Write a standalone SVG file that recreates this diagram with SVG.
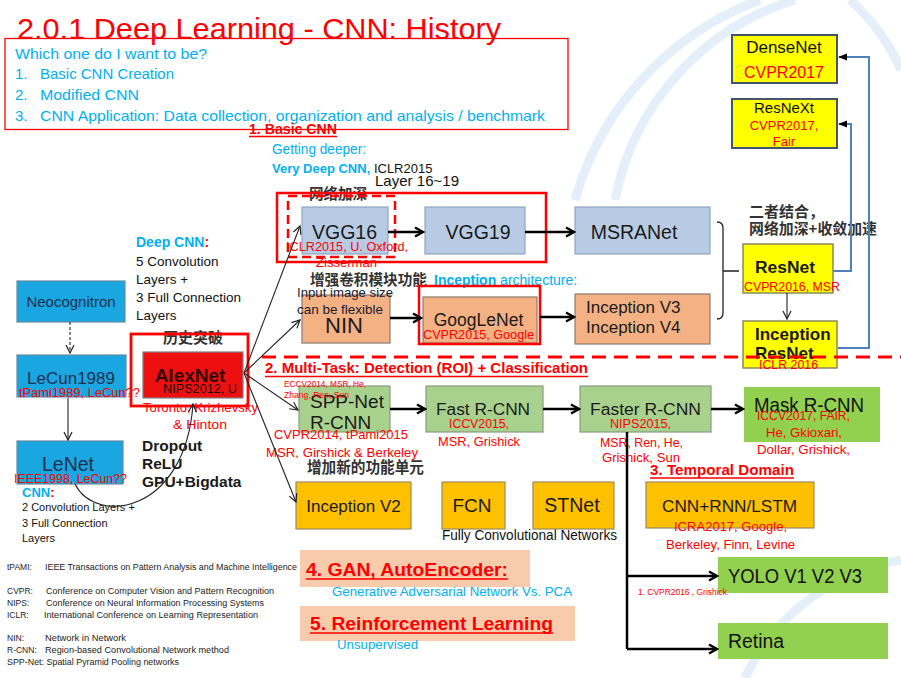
<svg xmlns="http://www.w3.org/2000/svg" width="901" height="678" viewBox="0 0 901 678">
<style>
text{font-family:"Liberation Sans",Arial,"Noto Sans CJK SC",sans-serif}
.cjk{font-family:"Noto Sans CJK SC","Liberation Sans",sans-serif;font-weight:bold;fill:#333}
.r{fill:#FF0000;font-size:13px}
.c{fill:#00B0F0}
.k{fill:#111}
.lab{font-size:17px;fill:#1a1a1a}
.mid{text-anchor:middle}
.vgg{fill:#B7CCE4;stroke:#8FA6BF;stroke-width:1.2}
.sal{fill:#F4B183;stroke:#8a7a70;stroke-width:1.2}
.grn{fill:#A9D18E;stroke:#8a9a80;stroke-width:1.2}
.org{fill:#FFC000;stroke:#9a8a60;stroke-width:1.2}
.yel{fill:#FFFF00;stroke:#8a8a60;stroke-width:1.5}
.lg{fill:#92D050}
.cb{fill:#1AA6E0;stroke:#6a8aa0;stroke-width:1.2}
.pk{fill:#F8CBAD}
.leg{font-size:8.5px;fill:#222}
.ttl{fill:#FF0000;font-weight:bold}
.ul{stroke:#FF0000;stroke-width:1.3}
.thick{stroke:#000;stroke-width:2.5;fill:none;marker-end:url(#ah)}
.thin{stroke:#222;stroke-width:1.1;fill:none;marker-end:url(#as)}
.blue{stroke:#4F81BD;stroke-width:2;fill:none;marker-end:url(#af)}
</style>
<defs>
<marker id="ah" viewBox="0 0 12 12" refX="10" refY="6" markerWidth="12" markerHeight="12" markerUnits="userSpaceOnUse" orient="auto"><path d="M2,1.5 L10,6 L2,10.5" fill="none" stroke="#000" stroke-width="2.2"/></marker>
<marker id="as" viewBox="0 0 10 10" refX="9" refY="5" markerWidth="10" markerHeight="10" markerUnits="userSpaceOnUse" orient="auto"><path d="M1,1 L9,5 L1,9" fill="none" stroke="#222" stroke-width="1.2"/></marker>
<marker id="af" viewBox="0 0 10 10" refX="9" refY="5" markerWidth="9" markerHeight="9" markerUnits="userSpaceOnUse" orient="auto"><path d="M0,1 L10,5 L0,9 z" fill="#000"/></marker>
</defs>
<rect width="901" height="678" fill="#fff"/>
<g id="watermark" fill="none" stroke="#E4EFF9" stroke-width="9">
<path d="M575,200 A300,300 0 0 1 760,0"/>
<path d="M615,200 A260,260 0 0 1 795,0"/>
<path d="M850,0 A200,200 0 0 1 901,70"/>
<path d="M745,678 A210,210 0 0 1 901,560"/>
</g>

<g id="header">
<text x="17" y="39" font-size="30" fill="#FF0000" textLength="484" lengthAdjust="spacingAndGlyphs">2.0.1 Deep Learning - CNN: History</text>
<rect x="5" y="38.5" width="563" height="91" fill="none" stroke="#FF0000" stroke-width="1.3"/>
<g class="c" font-size="15">
<text x="15" y="59" textLength="192" lengthAdjust="spacingAndGlyphs">Which one do I want to be?</text>
<text x="15" y="79">1.</text><text x="40" y="79" textLength="134" lengthAdjust="spacingAndGlyphs">Basic CNN Creation</text>
<text x="15" y="100">2.</text><text x="40" y="100" textLength="99" lengthAdjust="spacingAndGlyphs">Modified CNN</text>
<text x="15" y="121">3.</text><text x="40" y="121" textLength="505" lengthAdjust="spacingAndGlyphs">CNN Application: Data collection, organization and analysis / benchmark</text>
</g>
</g>

<g id="section1">
<text x="249" y="134" font-size="14" class="ttl" textLength="88" lengthAdjust="spacingAndGlyphs">1. Basic CNN</text>
<line x1="249" y1="136.5" x2="337" y2="136.5" class="ul"/>
<text x="272" y="154" font-size="14" class="c" textLength="94" lengthAdjust="spacingAndGlyphs">Getting deeper:</text>
<text x="272" y="173" font-size="13"><tspan class="c" font-weight="bold">Very Deep CNN,</tspan><tspan class="k"> ICLR2015</tspan></text>
<text x="375" y="186" font-size="15" class="k" textLength="84" lengthAdjust="spacingAndGlyphs">Layer 16~19</text>
<text x="309" y="199" font-size="14.5" class="cjk" textLength="58" lengthAdjust="spacingAndGlyphs">网络加深</text>
<rect x="277" y="193" width="269" height="69" fill="none" stroke="#FF0000" stroke-width="2.5"/>
</g>

<g id="vgg16">
<rect x="302" y="207" width="86" height="47" class="vgg"/>
<text x="344.5" y="239" font-size="19.5" class="mid" fill="#1a1a1a">VGG16</text>
<text x="286" y="251" class="r" textLength="122" lengthAdjust="spacingAndGlyphs">ICLR2015, U. Oxford,</text>
<text x="316" y="267" class="r" textLength="61" lengthAdjust="spacingAndGlyphs">Zisserman</text>
<rect x="288" y="196" width="107" height="61" fill="none" stroke="#FF0000" stroke-width="2.5" stroke-dasharray="9,5"/>
</g>
<g id="vgg19">
<rect x="425" y="207" width="100" height="47" class="vgg"/>
<text x="478" y="239" font-size="19.5" class="mid" fill="#1a1a1a">VGG19</text>
</g>
<g id="msranet">
<rect x="575" y="207" width="135" height="47" class="vgg"/>
<text x="634" y="239" font-size="19.5" class="mid" fill="#1a1a1a">MSRANet</text>
</g>

<g id="inception-label">
<text x="310" y="285" font-size="14.6" class="cjk" textLength="117" lengthAdjust="spacingAndGlyphs">增强卷积模块功能</text>
<text x="434" y="285" font-size="14" class="c"><tspan font-weight="bold">Inception</tspan> architecture:</text>
</g>
<g id="nin">
<rect x="302" y="295" width="88" height="48" class="sal"/>
<text x="344" y="333" font-size="22" class="mid" fill="#1a1a1a">NIN</text>
<text x="297" y="297" font-size="13" fill="#1a1a30" textLength="96" lengthAdjust="spacingAndGlyphs">Input image size</text>
<text x="297" y="314" font-size="13" fill="#1a1a30" textLength="86" lengthAdjust="spacingAndGlyphs">can be flexible</text>
</g>
<g id="googlenet">
<rect x="423" y="297" width="114" height="46" class="sal"/>
<rect x="419" y="286" width="121" height="58" fill="none" stroke="#FF0000" stroke-width="2.5"/>
<text x="478.5" y="326" font-size="17.5" class="mid" fill="#1a1a1a">GoogLeNet</text>
<text x="423" y="339" class="r" textLength="111" lengthAdjust="spacingAndGlyphs">CVPR2015, Google</text>
</g>
<g id="inception-v3v4">
<rect x="575" y="294" width="135" height="50" class="sal"/>
<text x="586" y="313" font-size="17" fill="#1a1a1a">Inception V3</text>
<text x="586" y="333" font-size="17" fill="#1a1a1a">Inception V4</text>
</g>

<g id="combine-label">
<text x="749" y="217" font-size="15" class="cjk">二者结合，</text>
<text x="749" y="234" font-size="14.5" class="cjk" textLength="128" lengthAdjust="spacingAndGlyphs">网络加深+收敛加速</text>
</g>
<g id="resnet">
<rect x="743" y="244" width="90" height="49" class="yel"/>
<text x="755" y="273" font-size="17.4" font-weight="bold" fill="#1a1a1a">ResNet</text>
<text x="744" y="291" class="r" textLength="96" lengthAdjust="spacingAndGlyphs">CVPR2016, MSR</text>
</g>
<g id="inception-resnet">
<rect x="743" y="321" width="94" height="47" class="yel"/>
<text x="755" y="340" font-size="17" font-weight="bold" fill="#1a1a1a">Inception</text>
<text x="755" y="359" font-size="17" font-weight="bold" fill="#1a1a1a">ResNet</text>
</g>
<g id="densenet">
<rect x="732" y="35" width="105" height="48" fill="#FFFF00" stroke="#44546A" stroke-width="2"/>
<text x="784" y="53" font-size="17" class="mid" fill="#111">DenseNet</text>
<text x="784" y="78" font-size="16" class="mid" fill="#FF0000">CVPR2017</text>
</g>
<g id="resnext">
<rect x="732" y="99" width="105" height="49" fill="#FFFF00" stroke="#44546A" stroke-width="2"/>
<text x="784" y="113" font-size="15" class="mid" fill="#111">ResNeXt</text>
<text x="784" y="130" class="r mid">CVPR2017,</text>
<text x="784" y="146" class="r mid">Fair</text>
</g>

<g id="separator">
<path d="M262,357 H901" stroke="#FF0000" stroke-width="3" stroke-dasharray="14,8" fill="none"/>
<text x="759" y="369" class="r" textLength="59" lengthAdjust="spacingAndGlyphs">ICLR 2016</text>
</g>

<g id="section2">
<text x="265" y="373" font-size="15" class="ttl" textLength="323" lengthAdjust="spacingAndGlyphs">2. Multi-Task: Detection (ROI) + Classification</text>
<line x1="265" y1="376.5" x2="588" y2="376.5" class="ul"/>
</g>

<g id="alexnet">
<text x="193" y="343" font-size="15" class="cjk mid">历史突破</text>
<rect x="131" y="334" width="117" height="72" fill="none" stroke="#FF0000" stroke-width="2.8"/>
<rect x="143" y="352" width="100" height="46" fill="#EE1010" stroke="#7f7f7f" stroke-width="1.2"/>
<text x="190" y="382" font-size="19" font-weight="bold" class="mid" fill="#330000">AlexNet</text>
<text x="163" y="393" font-size="13" fill="#111" textLength="74" lengthAdjust="spacingAndGlyphs">NIPS2012, U</text>
<text x="143" y="412" class="r" textLength="115" lengthAdjust="spacingAndGlyphs">Toronto, Krizhevsky</text>
<text x="173" y="429" class="r" textLength="54" lengthAdjust="spacingAndGlyphs">&amp; Hinton</text>
</g>
<g id="deepcnn-label">
<text x="136" y="247" font-size="14" font-weight="bold"><tspan class="c">Deep CNN</tspan><tspan fill="#FF0000">:</tspan></text>
<text x="136" y="266" font-size="13.5" class="k">5 Convolution</text>
<text x="136" y="284" font-size="13.5" class="k">Layers +</text>
<text x="136" y="302" font-size="13.5" class="k">3 Full Connection</text>
<text x="136" y="320" font-size="13.5" class="k">Layers</text>
</g>
<g id="tricks">
<text x="142" y="451" font-size="15.5" font-weight="bold" fill="#1a1a1a">Dropout</text>
<text x="142" y="469" font-size="15.5" font-weight="bold" fill="#1a1a1a">ReLU</text>
<text x="142" y="487" font-size="15.5" font-weight="bold" fill="#1a1a1a">GPU+Bigdata</text>
</g>
<g id="neocognitron">
<rect x="17" y="281" width="108" height="41" class="cb"/>
<text x="71" y="307" font-size="15" class="mid" fill="#1F3050">Neocognitron</text>
</g>
<g id="lecun1989">
<rect x="17" y="355" width="109" height="42" class="cb"/>
<text x="71" y="384" font-size="17" class="mid" fill="#1F3050">LeCun1989</text>
<text x="19" y="397" class="r" textLength="121" lengthAdjust="spacingAndGlyphs">tPami1989, LeCun??</text>
</g>
<g id="lenet">
<rect x="17" y="441" width="106" height="43" class="cb"/>
<text x="68" y="471" font-size="19.5" class="mid" fill="#1F3050">LeNet</text>
<text x="14" y="483" class="r" textLength="113" lengthAdjust="spacingAndGlyphs">IEEE1998, LeCun??</text>
<text x="22" y="497" font-size="13" font-weight="bold"><tspan class="c">CNN</tspan><tspan fill="#FF0000">:</tspan></text>
<text x="22" y="511" font-size="11" class="k">2 Convolution Layers +</text>
<text x="22" y="527" font-size="11" class="k">3 Full Connection</text>
<text x="22" y="542" font-size="11" class="k">Layers</text>
</g>

<g id="spp-net">
<rect x="299" y="386" width="91" height="46" class="grn"/>
<text x="310" y="408" font-size="19" fill="#1a1a1a">SPP-Net</text>
<text x="310" y="429" font-size="19" fill="#1a1a1a">R-CNN</text>
<text x="284" y="387" font-size="9" fill="#FF0000" textLength="82" lengthAdjust="spacingAndGlyphs">ECCV2014, MSR, He,</text>
<text x="284" y="398" font-size="9" fill="#FF0000" textLength="65" lengthAdjust="spacingAndGlyphs">Zhang, Ren, Sun</text>
<text x="274" y="439" class="r" textLength="134" lengthAdjust="spacingAndGlyphs">CVPR2014, tPami2015</text>
<text x="266" y="457" class="r" textLength="152" lengthAdjust="spacingAndGlyphs">MSR, Girshick &amp; Berkeley</text>
</g>
<g id="fast-rcnn">
<rect x="426" y="386" width="117" height="46" class="grn"/>
<text x="436" y="415" font-size="17.3" fill="#1a1a1a">Fast R-CNN</text>
<text x="449" y="428" class="r" textLength="60" lengthAdjust="spacingAndGlyphs">ICCV2015,</text>
<text x="438" y="446" class="r" textLength="82" lengthAdjust="spacingAndGlyphs">MSR, Grishick</text>
</g>
<g id="faster-rcnn">
<rect x="580" y="386" width="131" height="46" class="grn"/>
<text x="590" y="415" font-size="17.3" fill="#1a1a1a" textLength="111" lengthAdjust="spacingAndGlyphs">Faster R-CNN</text>
<text x="610" y="428" class="r" textLength="61" lengthAdjust="spacingAndGlyphs">NIPS2015,</text>
<text x="600" y="447" class="r" textLength="83" lengthAdjust="spacingAndGlyphs">MSR, Ren, He,</text>
<text x="602" y="462" class="r" textLength="78" lengthAdjust="spacingAndGlyphs">Grisnick, Sun</text>
</g>
<g id="mask-rcnn">
<rect x="744" y="387" width="136" height="55" class="lg"/>
<text x="754" y="412" font-size="21" fill="#111" textLength="110" lengthAdjust="spacingAndGlyphs">Mask R-CNN</text>
<text x="757" y="420" class="r" textLength="93" lengthAdjust="spacingAndGlyphs">ICCV2017, FAIR,</text>
<text x="766" y="437" class="r" textLength="76" lengthAdjust="spacingAndGlyphs">He, Gkioxari,</text>
<text x="757" y="454" class="r" textLength="93" lengthAdjust="spacingAndGlyphs">Dollar, Grishick,</text>
</g>

<g id="new-units-label">
<text x="307" y="473" font-size="16" class="cjk" textLength="117" lengthAdjust="spacingAndGlyphs">增加新的功能单元</text>
</g>
<g id="inception-v2">
<rect x="296" y="482" width="115" height="47" class="org"/>
<text x="353.5" y="512" font-size="17" class="mid" fill="#1a1a1a">Inception V2</text>
</g>
<g id="fcn">
<rect x="442" y="482" width="63" height="47" class="org"/>
<text x="472" y="512" font-size="19" class="mid" fill="#1a1a1a">FCN</text>
<text x="442" y="540" font-size="14" fill="#111" textLength="175" lengthAdjust="spacingAndGlyphs">Fully Convolutional Networks</text>
</g>
<g id="stnet">
<rect x="533" y="482" width="81" height="47" class="org"/>
<text x="572" y="512" font-size="19.5" class="mid" fill="#1a1a1a">STNet</text>
</g>
<g id="section3">
<text x="650" y="475" font-size="15" class="ttl" textLength="144" lengthAdjust="spacingAndGlyphs">3. Temporal Domain</text>
<line x1="650" y1="478" x2="794" y2="478" class="ul"/>
</g>
<g id="cnn-rnn-lstm">
<rect x="646" y="482" width="168" height="46" class="org"/>
<text x="729.5" y="512" font-size="17" class="mid" fill="#1a1a1a" textLength="135" lengthAdjust="spacingAndGlyphs">CNN+RNN/LSTM</text>
<text x="674" y="531" class="r" textLength="113" lengthAdjust="spacingAndGlyphs">ICRA2017, Google,</text>
<text x="666" y="549" class="r" textLength="129" lengthAdjust="spacingAndGlyphs">Berkeley, Finn, Levine</text>
</g>
<g id="yolo">
<rect x="718" y="557" width="170" height="36" class="lg"/>
<text x="728" y="583" font-size="20" fill="#111" textLength="134" lengthAdjust="spacingAndGlyphs">YOLO V1 V2 V3</text>
<text x="638" y="595" font-size="8.5" fill="#FF0000" textLength="89" lengthAdjust="spacingAndGlyphs">1. CVPR2016 , Grishick</text>
</g>
<g id="retina">
<rect x="718" y="623" width="170" height="36" class="lg"/>
<text x="728" y="648" font-size="20" fill="#111" textLength="56" lengthAdjust="spacingAndGlyphs">Retina</text>
</g>

<g id="legend">
<text x="7" y="570" class="leg">tPAMI:</text>
<text x="45" y="570" class="leg" textLength="252" lengthAdjust="spacingAndGlyphs">IEEE Transactions on Pattern Analysis and Machine Intelligence</text>
<text x="7" y="594" class="leg">CVPR:</text>
<text x="46" y="594" class="leg" textLength="228" lengthAdjust="spacingAndGlyphs">Conference on Computer Vision and Pattern Recognition</text>
<text x="7" y="606" class="leg">NIPS:</text>
<text x="46" y="606" class="leg" textLength="218" lengthAdjust="spacingAndGlyphs">Conference on Neural Information Processing Systems</text>
<text x="7" y="618" class="leg">ICLR:</text>
<text x="44" y="618" class="leg" textLength="214" lengthAdjust="spacingAndGlyphs">International Conference on Learning Representation</text>
<text x="7" y="641" class="leg">NIN:</text>
<text x="45" y="641" class="leg" textLength="81" lengthAdjust="spacingAndGlyphs">Network in Network</text>
<text x="7" y="653" class="leg">R-CNN:</text>
<text x="45" y="653" class="leg" textLength="184" lengthAdjust="spacingAndGlyphs">Region-based Convolutional Network method</text>
<text x="7" y="665" class="leg" textLength="172" lengthAdjust="spacingAndGlyphs">SPP-Net: Spatial Pyramid Pooling networks</text>
</g>

<g id="section4">
<rect x="300" y="550" width="230" height="37" class="pk"/>
<text x="306" y="576" font-size="18.5" class="ttl" textLength="202" lengthAdjust="spacingAndGlyphs">4. GAN, AutoEncoder:</text>
<line x1="306" y1="579" x2="508" y2="579" class="ul"/>
<text x="332" y="596" font-size="13.5" class="c" textLength="240" lengthAdjust="spacingAndGlyphs">Generative Adversarial Network Vs. PCA</text>
</g>
<g id="section5">
<rect x="300" y="606" width="275" height="35" class="pk"/>
<text x="310" y="630" font-size="19" class="ttl" textLength="243" lengthAdjust="spacingAndGlyphs">5. Reinforcement Learning</text>
<line x1="310" y1="633" x2="553" y2="633" class="ul"/>
<text x="337" y="649" font-size="13.5" class="c" textLength="81" lengthAdjust="spacingAndGlyphs">Unsupervised</text>
</g>

<g id="connectors">
<path d="M388,232 H423" class="thick"/>
<path d="M525,232 H574" class="thick"/>
<path d="M390,318 H421" class="thick"/>
<path d="M540,317 H574" class="thick"/>
<path d="M390,409 H425" class="thick"/>
<path d="M543,409 H579" class="thick"/>
<path d="M711,409 H743" class="thick"/>
<path d="M627,432 V649" stroke="#000" stroke-width="2.5" fill="none"/>
<path d="M627,576 H717" class="thick"/>
<path d="M627,649 H717" class="thick"/>
<path d="M244,373 L300,226" class="thin"/>
<path d="M244,373 L300,320" class="thin"/>
<path d="M244,373 L298,410" class="thin"/>
<path d="M244,373 L296,502" class="thin"/>
<path d="M70,322 V353" class="thin" stroke-dasharray="3,2"/>
<path d="M68,398 V440" class="thin"/>
<path d="M75,484 C95,525 185,515 193,404" class="thin"/>
<path d="M787,293 V319" class="thin"/>
<path d="M717,222 Q723,222 723,228 V313 Q723,319 717,319 M723,271 H739" stroke="#222" stroke-width="1.3" fill="none"/>
<path d="M833,271 H851 V124 H839" class="blue"/>
<path d="M838,348 H869 V57 H839" class="blue"/>
</g>
</svg>
